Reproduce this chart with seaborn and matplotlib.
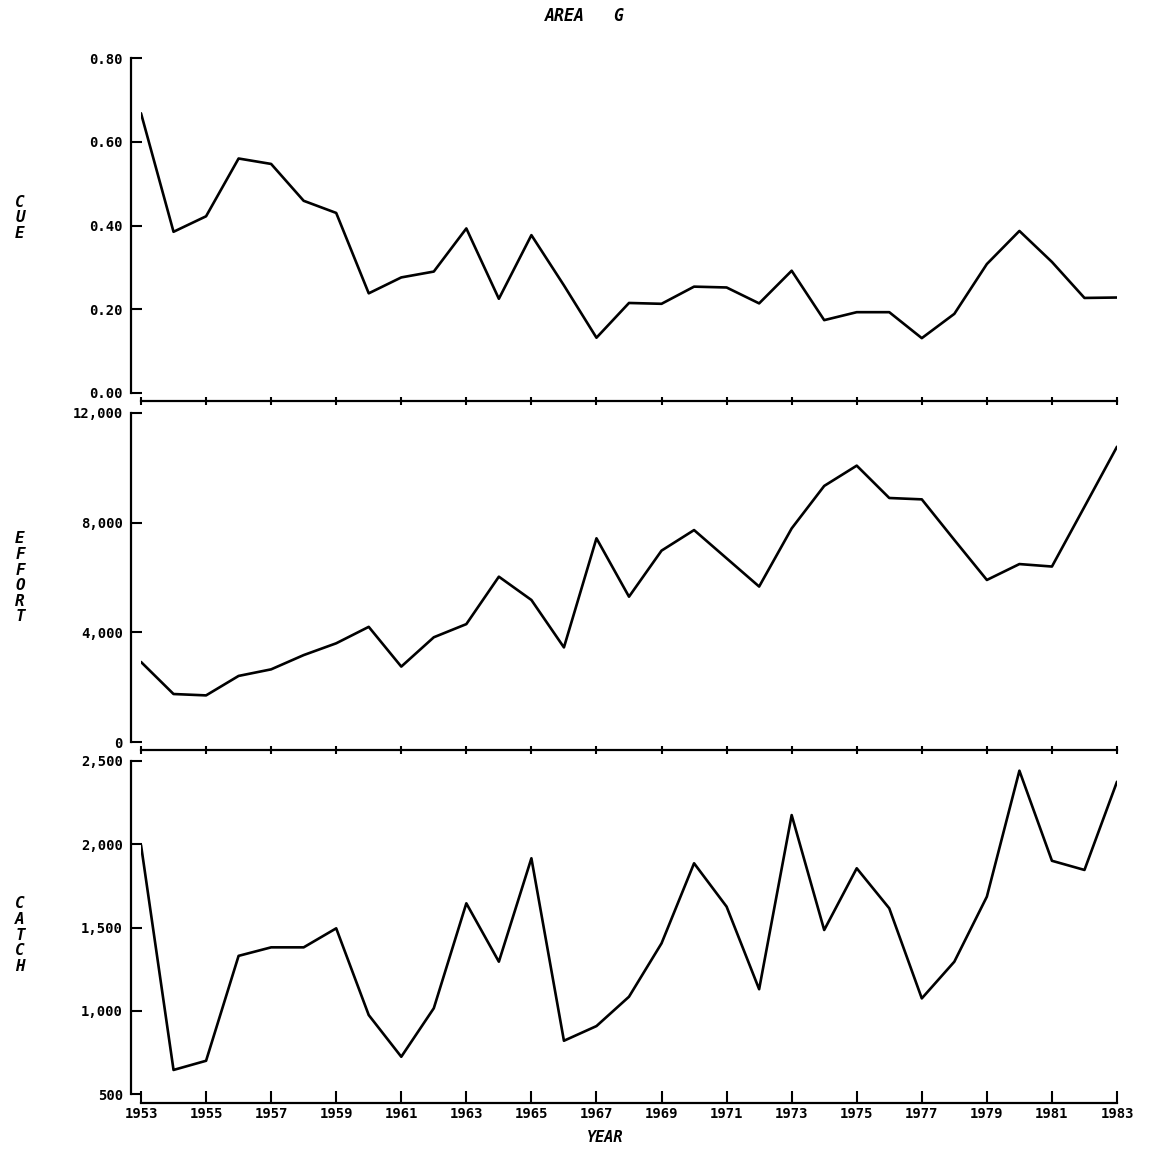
import numpy as np
import pandas as pd
import matplotlib.pyplot as plt
import seaborn as sns

# values
years = list(range(1953, 1984))
cue = [0.668, 0.385, 0.422, 0.560, 0.547, 0.459, 0.430, 0.238, 0.276, 0.290,
       0.393, 0.225, 0.377, 0.257, 0.132, 0.215, 0.213, 0.254, 0.252, 0.214,
       0.292, 0.174, 0.193, 0.193, 0.131, 0.189, 0.308, 0.387, 0.313, 0.227,
       0.228]
effort = [2920, 1750, 1700, 2410, 2650, 3170, 3600, 4200, 2750, 3820,
          4300, 6030, 5180, 3450, 7430, 5300, 6980, 7730, 6700, 5670,
          7790, 9340, 10080, 8900, 8850, 7370, 5910, 6490, 6400, 8580,
          10770]
catch = [1995, 646, 701, 1330, 1381, 1381, 1495, 975, 725, 1016,
         1645, 1295, 1915, 821, 909, 1085, 1405, 1885, 1625, 1130,
         2174, 1485, 1855, 1615, 1075, 1295, 1685, 2440, 1900, 1845,
         2374]

cue_ticks = [0.0, 0.2, 0.4, 0.6, 0.8]
cue_labels = ["0.00", "0.20", "0.40", "0.60", "0.80"]
effort_ticks = [0, 4000, 8000, 12000]
effort_labels = ["0", "4,000", "8,000", "12,000"]
catch_ticks = [500, 1000, 1500, 2000, 2500]
catch_labels = ["500", "1,000", "1,500", "2,000", "2,500"]
year_ticks = list(range(1953, 1984, 2))

df = pd.DataFrame({"year": years, "CUE": cue, "EFFORT": effort, "CATCH": catch})

sns.set_style("ticks")
plt.rcParams["font.family"] = ["DejaVu Sans Mono", "DejaVu Sans"]
plt.rcParams["font.weight"] = "bold"
for k in ("text.color", "axes.labelcolor", "xtick.color", "ytick.color", "axes.edgecolor"):
    plt.rcParams[k] = "black"

W, H = 1162, 1151
fig = plt.figure(figsize=(W / 100, H / 100), dpi=100)

left, right = 141 / W, 1117 / W
# (column, ticks, labels, top px, bottom px, label, label centre px)
panels = [
    ("CUE", cue_ticks, cue_labels, 58, 393, "C\nU\nE", 218),
    ("EFFORT", effort_ticks, effort_labels, 413, 742, "E\nF\nF\nO\nR\nT", 578),
    ("CATCH", catch_ticks, catch_labels, 760.7, 1094.3, "C\nA\nT\nC\nH", 935),
]

for i, (col, ticks, labels, top, bot, ylab, yc) in enumerate(panels):
    ax = fig.add_axes([left, 1 - bot / H, right - left, (bot - top) / H])
    sns.lineplot(data=df, x="year", y=col, color="black", linewidth=1.9, ax=ax)
    ax.set_xlim(1953, 1983)
    ax.set_ylim(ticks[0], ticks[-1])
    ax.set_yticks(ticks)
    ax.set_yticklabels(labels, fontsize=12, fontweight="bold")
    ax.set_xticks(year_ticks)
    ax.set_xlabel("")
    ax.set_ylabel("")
    last = i == len(panels) - 1
    if last:
        ax.set_xticklabels([str(y) for y in year_ticks], fontsize=14, fontweight="bold")
        ax.tick_params(axis="x", direction="in", length=9, width=1.5, pad=3)
    else:
        ax.set_xticklabels([])
        ax.tick_params(axis="x", direction="inout", length=6, width=1.5)
    ax.tick_params(axis="y", direction="in", length=8, width=1.5, pad=6)
    sns.despine(ax=ax, offset={"left": 7, "bottom": 6}, trim=True)
    for s in ("left", "bottom"):
        ax.spines[s].set_linewidth(1.6)
    fig.text(20 / W, 1 - yc / H, ylab, ha="center", va="center",
             fontsize=11.5, fontweight="bold", fontstyle="italic", linespacing=1.05)

fig.text(585 / W, 1 - 16 / H, "AREA   G", ha="center", va="center",
         fontsize=12, fontweight="bold", fontstyle="italic")
fig.text(605 / W, 1 - 1137 / H, "YEAR", ha="center", va="center",
         fontsize=11, fontweight="bold", fontstyle="italic")

fig.savefig("out.png", dpi=100)
